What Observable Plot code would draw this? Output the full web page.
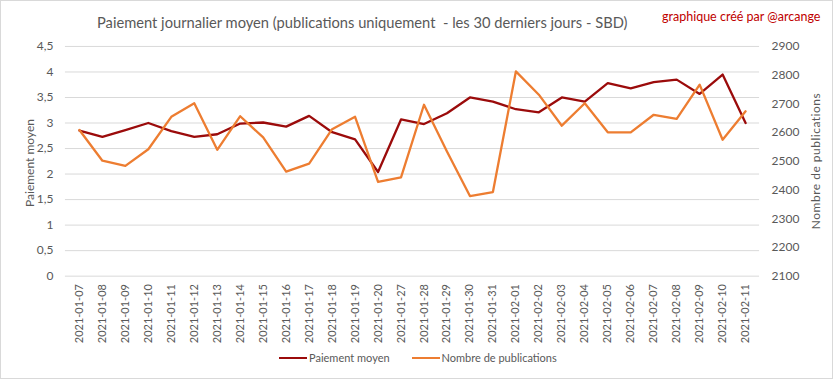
<!DOCTYPE html>
<html>
<head>
<meta charset="utf-8">
<script src="https://cdn.jsdelivr.net/npm/d3@7"></script>
<script src="https://cdn.jsdelivr.net/npm/@observablehq/plot@0.6"></script>
<style>
  html, body { margin: 0; padding: 0; background: #fff; }
  #wrap { position: relative; width: 833px; height: 379px; box-sizing: border-box; border: 1px solid #d9d9d9; overflow: hidden; font-family: Lato, "Liberation Sans", sans-serif; }
  #chart { position: absolute; left: -1px; top: -1px; }
  .abs { position: absolute; white-space: nowrap; }
  #title { left: 96px; top: 12px; font-size: 14.7px; color: #595959; }
  #credit { left: 661px; top: 8px; font-size: 12.5px; color: #c00000; }
  #ylab { left: 28px; top: 162px; font-size: 12px; color: #595959; transform: translate(-50%, -50%) rotate(-90deg); }
  #y2lab { left: 814px; top: 160px; font-size: 12px; color: #595959; transform: translate(-50%, -50%) rotate(-90deg); letter-spacing: 0.5px; }
  #legend { left: 278px; top: 350px; font-size: 11px; color: #595959; display: flex; align-items: center; }
  .sw { display: inline-block; width: 28px; height: 0; border-top: 2.5px solid; margin-right: 2px; }
</style>
</head>
<body>
<div id="wrap">
  <div id="chart"></div>
  <div class="abs" id="title">Paiement journalier moyen (publications uniquement&nbsp; - les 30 derniers jours - SBD)</div>
  <div class="abs" id="credit">graphique créé par @arcange</div>
  <div class="abs" id="ylab">Paiement moyen</div>
  <div class="abs" id="y2lab">Nombre de publications</div>
  <div class="abs" id="legend">
    <span class="sw" style="border-color:#9b0b0b"></span><span>Paiement moyen</span>
    <span style="display:inline-block;width:22px"></span>
    <span class="sw" style="border-color:#ed7d31"></span><span>Nombre de publications</span>
  </div>
</div>
<script>
const dates = ["2021-01-07","2021-01-08","2021-01-09","2021-01-10","2021-01-11","2021-01-12","2021-01-13","2021-01-14","2021-01-15","2021-01-16","2021-01-17","2021-01-18","2021-01-19","2021-01-20","2021-01-27","2021-01-28","2021-01-29","2021-01-30","2021-01-31","2021-02-01","2021-02-02","2021-02-03","2021-02-04","2021-02-05","2021-02-06","2021-02-07","2021-02-08","2021-02-09","2021-02-10","2021-02-11"];
const paiement = [2.85,2.73,2.86,3.00,2.84,2.73,2.78,2.99,3.01,2.93,3.14,2.82,2.68,2.04,3.07,2.98,3.19,3.50,3.42,3.27,3.21,3.50,3.42,3.78,3.68,3.80,3.85,3.57,3.95,3.00];
const publications = [2609,2502,2484,2542,2655,2702,2540,2657,2583,2464,2492,2612,2655,2428,2444,2697,2534,2379,2393,2813,2732,2624,2702,2601,2601,2662,2648,2767,2575,2674];
const leftTicks = [0,0.5,1,1.5,2,2.5,3,3.5,4,4.5];
const rightTicks = [2100,2200,2300,2400,2500,2600,2700,2800,2900];

const leftMin = 0, leftMax = 4.5, rightMin = 2100, rightMax = 2900;
const toLeft = p => leftMin + (p - rightMin) / (rightMax - rightMin) * (leftMax - leftMin);
const fromLeft = v => rightMin + (v - leftMin) / (leftMax - leftMin) * (rightMax - rightMin);

const rows = dates.map((d, i) => ({date: d, paiement: paiement[i], pub: publications[i]}));
const grey = "#595959";

const chart = Plot.plot({
  width: 833,
  height: 379,
  marginTop: 46,
  marginBottom: 103,
  marginLeft: 65,
  marginRight: 73,
  style: {fontFamily: "Lato, 'Liberation Sans', sans-serif", fontSize: "12px", color: grey, background: "transparent"},
  x: {type: "point", domain: dates, padding: 0.5},
  y: {domain: [leftMin, leftMax]},
  marks: [
    Plot.gridY(leftTicks, {stroke: "#d9d9d9", strokeOpacity: 1, strokeWidth: 1}),
    Plot.axisY(leftTicks, {anchor: "left", tickSize: 0, tickPadding: 12, label: null, fill: grey, tickFormat: d => String(d).replace(".", ","), fontSize: 12}),
    Plot.axisY(rightTicks.map(toLeft), {anchor: "right", tickSize: 0, tickPadding: 12, label: null, fill: grey, tickFormat: v => String(Math.round(fromLeft(v))), fontSize: 12}),
    Plot.axisX(dates, {anchor: "bottom", tickRotate: -90, tickSize: 0, tickPadding: 8, label: null, fill: grey, fontSize: 11}),
    Plot.lineY(rows, {x: "date", y: "paiement", stroke: "#9b0b0b", strokeWidth: 2.3}),
    Plot.lineY(rows, {x: "date", y: d => toLeft(d.pub), stroke: "#ed7d31", strokeWidth: 2.3})
  ]
});
document.getElementById("chart").appendChild(chart);
</script>
</body>
</html>
